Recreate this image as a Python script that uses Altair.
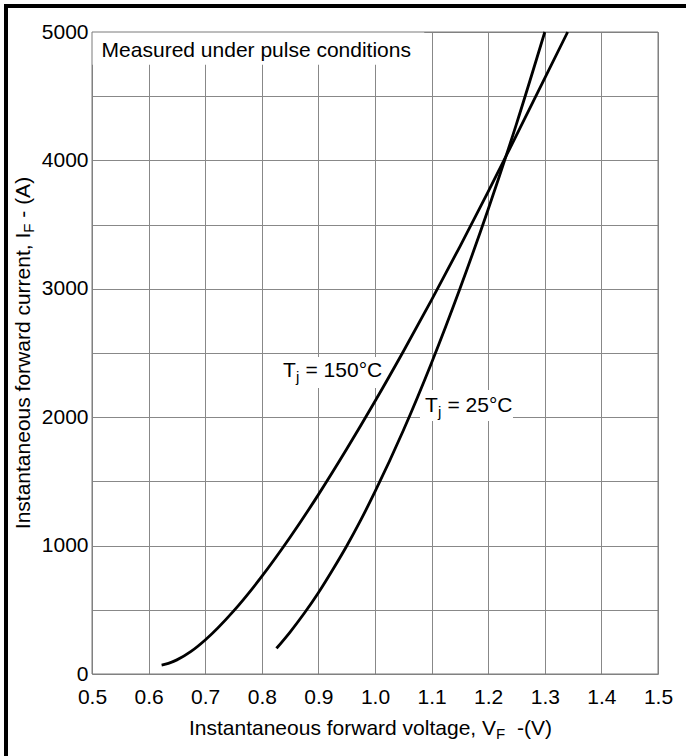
import altair as alt
import pandas as pd

# Forward characteristic at Tj = 150 °C (V, A)
v_150 = [0.623, 0.635, 0.65, 0.675, 0.70, 0.75, 0.80, 0.85, 0.90, 0.95, 1.00,
         1.05, 1.10, 1.15, 1.20, 1.25, 1.30, 1.3404]
i_150 = [70, 83, 110, 176, 265, 490, 760, 1065, 1397, 1752, 2124,
         2512, 2914, 3329, 3757, 4197, 4640, 5000]

# Forward characteristic at Tj = 25 °C (V, A)
v_25 = [0.826, 0.85, 0.875, 0.90, 0.925, 0.95, 0.975, 1.00, 1.05, 1.10, 1.15,
        1.20, 1.25, 1.30]
i_25 = [200, 327, 473, 633, 810, 997, 1200, 1420, 1896, 2424, 3000,
        3620, 4285, 5000]

# Axis ticks
x_ticks = [0.5, 0.6, 0.7, 0.8, 0.9, 1.0, 1.1, 1.2, 1.3, 1.4, 1.5]
y_grid = [0, 500, 1000, 1500, 2000, 2500, 3000, 3500, 4000, 4500, 5000]

# Curve labels: anchor (V, A) and the text after the subscript
label_v = [0.8375, 1.0883]
label_i = [2315, 2043]
label_rest = ["= 150°C", "= 25°C"]

# White backgrounds behind the annotations (V, A extents)
box_v1 = [0.5, 0.832, 1.0795]
box_v2 = [1.087, 1.019, 1.2438]
box_i1 = [4745, 2227, 1970]
box_i2 = [5000, 2469, 2212]

FONT = "Liberation Sans"
FS = 21
W, H = 566, 642

curves = pd.concat([
    pd.DataFrame({"v": v_150, "i": i_150, "tj": "150"}),
    pd.DataFrame({"v": v_25, "i": i_25, "tj": "25"}),
])
labels = pd.DataFrame({"v": label_v, "i": label_i, "rest": label_rest})
boxes = pd.DataFrame({"v1": box_v1, "v2": box_v2, "i1": box_i1, "i2": box_i2})
note_df = pd.DataFrame({"v": [0.517], "i": [4808]})
one = pd.DataFrame({"k": [0]})

xs = alt.Scale(domain=[0.5, 1.5], nice=False)
ys = alt.Scale(domain=[0, 5000], nice=False)
x_axis = alt.Axis(
    values=x_ticks, format=".1f", title=None, grid=True, gridColor="#888888",
    gridWidth=1, ticks=False, tickSize=0, domain=False, labelFont=FONT,
    labelFontSize=FS, labelColor="black", labelPadding=12, labelFlush=False)
y_axis = alt.Axis(
    values=y_grid, title=None, grid=True, gridColor="#888888", gridWidth=1,
    ticks=False, tickSize=0, domain=False, labelFont=FONT, labelFontSize=FS,
    labelColor="black", labelPadding=4, labelFlush=False,
    labelExpr="datum.value % 1000 == 0 ? datum.value : ''")


def xq(field):
    return alt.X(field, type="quantitative", scale=xs, axis=x_axis)


def yq(field):
    return alt.Y(field, type="quantitative", scale=ys, axis=y_axis)


box_layer = alt.Chart(boxes).mark_rect(color="white").encode(
    x=xq("v1"), x2="v2", y=yq("i1"), y2="i2"
)

curve_layer = alt.Chart(curves).mark_line(
    color="black", strokeWidth=2.8, interpolate="monotone"
).encode(x=xq("v"), y=yq("i"), detail="tj:N")

frame = alt.Chart(one).mark_rect(fill=None, stroke="#7a7a7a", strokeWidth=1).encode(
    x=alt.value(0), x2=alt.value(W), y=alt.value(0), y2=alt.value(H)
)

note = alt.Chart(note_df).mark_text(
    text="Measured under pulse conditions", font=FONT, fontSize=FS,
    align="left", baseline="alphabetic", color="black"
).encode(x=xq("v"), y=yq("i"))

lab_t = alt.Chart(labels).mark_text(
    text="T", font=FONT, fontSize=FS, align="left", baseline="alphabetic", color="black"
).encode(x=xq("v"), y=yq("i"))
lab_j = alt.Chart(labels).mark_text(
    text="j", font=FONT, fontSize=15, align="left", baseline="alphabetic",
    color="black", dx=13, dy=5
).encode(x=xq("v"), y=yq("i"))
lab_rest = alt.Chart(labels).mark_text(
    font=FONT, fontSize=FS, align="left", baseline="alphabetic", color="black", dx=22.5
).encode(x=xq("v"), y=yq("i"), text="rest:N")

# Axis titles with subscripts
xt_anchor = 404
xt_main = alt.Chart(one).mark_text(
    text="Instantaneous forward voltage, V", font=FONT, fontSize=FS, align="right",
    baseline="alphabetic", color="black"
).encode(x=alt.value(xt_anchor), y=alt.value(H + 61))
xt_sub = alt.Chart(one).mark_text(
    text="F", font=FONT, fontSize=15, align="left", baseline="alphabetic", color="black"
).encode(x=alt.value(xt_anchor), y=alt.value(H + 65))
xt_rest = alt.Chart(one).mark_text(
    text="-(V)", font=FONT, fontSize=FS, align="left", baseline="alphabetic",
    color="black"
).encode(x=alt.value(xt_anchor + 21), y=alt.value(H + 61))

yt_anchor = 200.7
yt_main = alt.Chart(one).mark_text(
    text="Instantaneous forward current, I", font=FONT, fontSize=FS, align="right",
    baseline="alphabetic", angle=270, color="black"
).encode(x=alt.value(-62), y=alt.value(yt_anchor))
yt_sub = alt.Chart(one).mark_text(
    text="F", font=FONT, fontSize=15, align="left", baseline="alphabetic", angle=270,
    color="black"
).encode(x=alt.value(-58), y=alt.value(yt_anchor))
yt_rest = alt.Chart(one).mark_text(
    text="- (A)", font=FONT, fontSize=FS, align="left", baseline="alphabetic",
    angle=270, color="black"
).encode(x=alt.value(-62), y=alt.value(yt_anchor - 15))

# Outer black border (top and left bands; the rest runs off the page)
border_top = alt.Chart(one).mark_rect(color="black").encode(
    x=alt.value(-88), x2=alt.value(W + 100), y=alt.value(-28), y2=alt.value(-24)
)
border_left = alt.Chart(one).mark_rect(color="black").encode(
    x=alt.value(-88), x2=alt.value(-84), y=alt.value(-28), y2=alt.value(H + 140)
)

chart = alt.layer(
    box_layer, frame, curve_layer, note, lab_t, lab_j, lab_rest,
    xt_main, xt_sub, xt_rest, yt_main, yt_sub, yt_rest, border_top, border_left
).properties(
    width=W, height=H, autosize=alt.AutoSizeParams(type="none"),
    padding={"left": 92, "top": 32, "right": 28, "bottom": 82},
    background="white",
).configure_view(stroke=None)

chart.save("out.html", embed_options={"renderer": "svg", "actions": False})
